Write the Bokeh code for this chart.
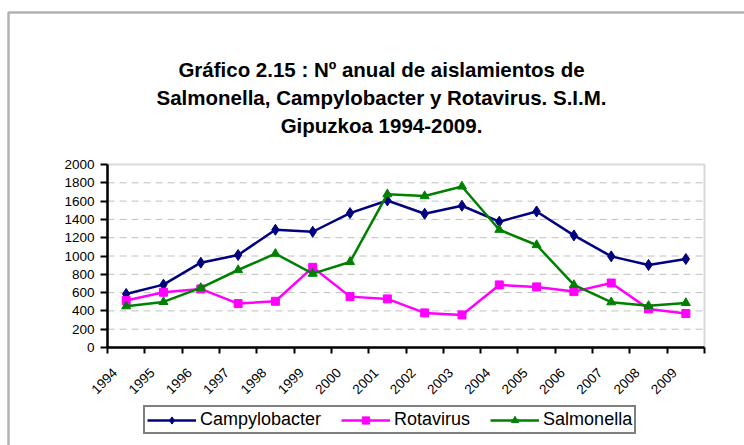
from math import pi
from bokeh.plotting import figure
from bokeh.models import (Range1d, FixedTicker, Legend, LegendItem, Label,
                          BoxAnnotation, ColumnDataSource)
from bokeh.embed import file_html
from bokeh.resources import INLINE

years = ["1994", "1995", "1996", "1997", "1998", "1999", "2000", "2001",
         "2002", "2003", "2004", "2005", "2006", "2007", "2008", "2009"]
campylobacter = [585, 687, 927, 1011, 1287, 1265, 1469, 1607,
                 1462, 1549, 1375, 1487, 1225, 996, 902, 967]
rotavirus = [513, 604, 640, 480, 505, 876, 556, 531,
             378, 356, 684, 662, 611, 705, 422, 371]
salmonella = [451, 498, 651, 847, 1025, 807, 935, 1676,
              1655, 1760, 1287, 1120, 684, 495, 455, 487]
y_ticks = [0, 200, 400, 600, 800, 1000, 1200, 1400, 1600, 1800, 2000]
title_lines = ["Gráfico 2.15 : Nº anual de aislamientos de",
               "Salmonella, Campylobacter y Rotavirus. S.I.M.",
               "Gipuzkoa 1994-2009."]

N = len(years)
YMAX = y_ticks[-1]
xpos = [i + 0.5 for i in range(N)]
src = ColumnDataSource(dict(x=xpos, c=campylobacter, r=rotavirus, s=salmonella))

# layout in page pixels
W, H = 744, 445
PL, PR, PT, PB = 107, 704, 164, 347      # plot-area edges
sx = (PR - PL) / N
sy = (PB - PT) / YMAX


def dx(px):
    return (px - PL) / sx


def dy(py):
    return (PB - py) / sy


p = figure(width=W, height=H, output_backend="svg", toolbar_location=None,
           title_location=None,
           x_range=Range1d(dx(0), dx(W)), y_range=Range1d(dy(H), dy(0)),
           min_border=0, min_border_left=0, min_border_right=0,
           min_border_top=0, min_border_bottom=0)
p.background_fill_color = "white"
p.border_fill_color = "white"
p.outline_line_color = None

FONT = "Liberation Sans"

# outer chart-area border (left and top edges visible)
p.add_layout(BoxAnnotation(left=dx(8), right=dx(W + 50), top=dy(12), bottom=dy(H + 50),
                           fill_alpha=0, line_color="black", line_width=2.5,
                           level="underlay"))
# plot-area border (top/right grey)
p.add_layout(BoxAnnotation(left=0, right=N, bottom=0, top=YMAX,
                           fill_color="white", fill_alpha=1,
                           line_color="#808080", line_width=2, level="underlay"))

# grid lines
p.xgrid.visible = False
p.ygrid.visible = False
gy = y_ticks[1:-1]
p.segment(x0=[0] * len(gy), x1=[N] * len(gy), y0=gy, y1=gy,
          line_color="#c0c0c0", line_width=1, line_dash="7 5")

# x axis: minor ticks at category edges, labels (Excel style) ending left of centre
label_pos = [round(i + 0.2, 2) for i in range(N)]
xa = p.xaxis[0]
xa.fixed_location = 0
xa.bounds = (0, N)
xa.ticker = FixedTicker(ticks=label_pos, minor_ticks=list(range(N + 1)))
xa.major_label_overrides = {x: y for x, y in zip(label_pos, years)}
xa.major_tick_out = 0
xa.major_tick_in = 0
xa.minor_tick_out = 6
xa.minor_tick_in = 0
xa.minor_tick_line_color = "black"
xa.minor_tick_line_width = 2
xa.axis_line_color = "black"
xa.axis_line_width = 2.5
xa.major_label_orientation = pi / 4
xa.major_label_text_font = FONT
xa.major_label_text_font_size = "13.5px"
xa.major_label_text_color = "black"
xa.major_label_standoff = 17

# y axis
ya = p.yaxis[0]
ya.fixed_location = 0
ya.bounds = (0, YMAX)
ya.ticker = FixedTicker(ticks=y_ticks)
ya.minor_tick_line_color = None
ya.major_tick_out = 7
ya.major_tick_in = 0
ya.major_tick_line_color = "black"
ya.major_tick_line_width = 2
ya.axis_line_color = "black"
ya.axis_line_width = 2.5
ya.major_label_text_font = FONT
ya.major_label_text_font_size = "13.5px"
ya.major_label_text_color = "black"
ya.major_label_standoff = 6

lc = p.line("x", "c", source=src, line_color="#000080", line_width=2.5)
mc = p.scatter("x", "c", source=src, marker="diamond", size=11,
               fill_color="#000080", line_color="#000080")
lr = p.line("x", "r", source=src, line_color="#FF00FF", line_width=2.5)
mr = p.scatter("x", "r", source=src, marker="square", size=8,
               fill_color="#FF00FF", line_color="#FF00FF")
ls = p.line("x", "s", source=src, line_color="#008000", line_width=2.5)
ms = p.scatter("x", "s", source=src, marker="triangle", size=9,
               fill_color="#008000", line_color="#008000")

legend = Legend(items=[LegendItem(label="Campylobacter", renderers=[lc, mc]),
                       LegendItem(label="Rotavirus", renderers=[lr, mr]),
                       LegendItem(label="Salmonella", renderers=[ls, ms])],
                orientation="horizontal", location=(143, H - 434))
legend.label_text_font = FONT
legend.label_text_font_size = "18px"
legend.label_text_color = "black"
legend.glyph_width = 49
legend.glyph_height = 18
legend.label_height = 18
legend.label_standoff = 4
legend.spacing = 20
legend.padding = 2
legend.margin = 0
legend.border_line_color = "black"
legend.border_line_width = 2
legend.background_fill_color = "white"
p.add_layout(legend, "center")

# title lines (baselines)
for txt, cy in zip(title_lines, [69, 97, 125]):
    p.add_layout(Label(x=381, y=H - cy, x_units="screen", y_units="screen", text=txt,
                       text_align="center", text_baseline="alphabetic",
                       text_font=FONT, text_font_style="bold",
                       text_font_size="20.5px", text_color="black"))

open("out.html", "w").write(file_html(p, INLINE))
